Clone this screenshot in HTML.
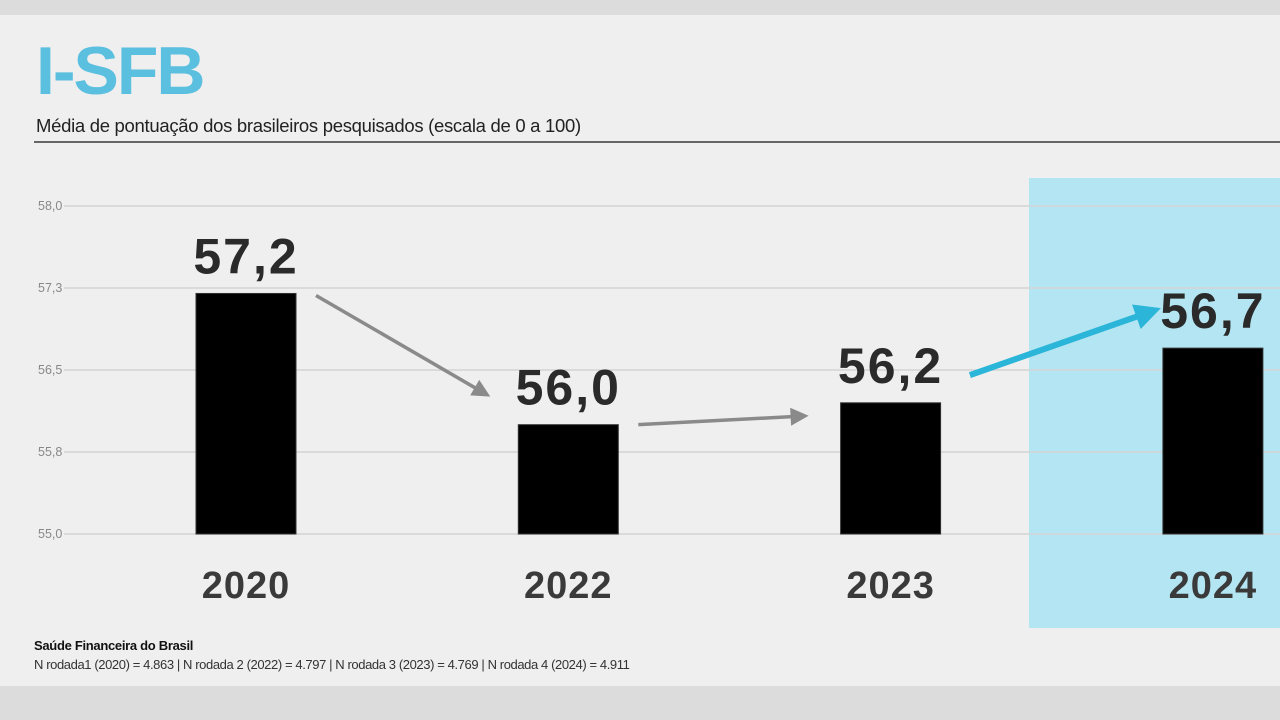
<!DOCTYPE html>
<html><head><meta charset="utf-8"><style>
html,body{margin:0;padding:0;width:1280px;height:720px;background:#dcdcdc;overflow:hidden;font-family:"Liberation Sans",sans-serif}
#panel{position:absolute;left:0;top:15px;width:1280px;height:671px;background:#efefef}
</style></head><body>
<div id="panel"></div>
<svg width="1280" height="720" style="position:absolute;left:0;top:0">
<rect x="1029" y="178" width="251" height="450" fill="#b3e5f2"/>
<text x="36" y="94" font-size="68" font-weight="bold" fill="#5bbfdf" letter-spacing="-2">I-SFB</text>
<text x="36" y="132" font-size="18.5" fill="#222" letter-spacing="-0.3">Média de pontuação dos brasileiros pesquisados (escala de 0 a 100)</text>
<rect x="34" y="141" width="1246" height="2" fill="#666"/>
<g id="grid"></g><g id="bars"></g><g id="arrows"></g>
<text x="34" y="650" font-size="13" font-weight="bold" fill="#111" letter-spacing="-0.3">Saúde Financeira do Brasil</text>
<text x="34" y="669" font-size="13" fill="#333" letter-spacing="-0.4">N rodada1 (2020) = 4.863 | N rodada 2 (2022) = 4.797 | N rodada 3 (2023) = 4.769 | N rodada 4 (2024) = 4.911</text>
</svg>
<script>
const categories=["2020","2022","2023","2024"];
const values=[57.2,56.0,56.2,56.7];
const valueLabels=["57,2","56,0","56,2","56,7"];
const tickValues=[58.0,57.25,56.5,55.75,55.0];
const tickLabels=["58,0","57,3","56,5","55,8","55,0"];
const NS="http://www.w3.org/2000/svg";
const y=v=>534-(v-55)*(328/3);
const x=i=>246+i*322.3;
function mk(t,a,p){const e=document.createElementNS(NS,t);for(const k in a)e.setAttribute(k,a[k]);p.appendChild(e);return e;}
const grid=document.getElementById('grid');
tickValues.forEach((v,i)=>{
 const l=mk('line',{x1:64,x2:1280,y1:y(v),y2:y(v),stroke:'#d4d4d4','stroke-width':1.5},grid);
 
 
 const t=mk('text',{x:38,y:y(v)+4,'font-size':12.5,fill:'#888'},grid);t.textContent=tickLabels[i];
 
 
});
const bars=document.getElementById('bars');
values.forEach((v,i)=>{
 const r=mk('rect',{x:x(i)-50,y:y(v),width:100,height:y(55)-y(v),fill:'#000',stroke:'#333','stroke-width':1},bars);
 
 
 const t=mk('text',{x:x(i),y:y(v)-20,'font-size':50,'font-weight':'bold',fill:'#2a2a2a','text-anchor':'middle','letter-spacing':2},bars);t.textContent=valueLabels[i];
 
 
 const c=mk('text',{x:x(i),y:598,'font-size':38,'font-weight':'bold',fill:'#3a3a3a','text-anchor':'middle','letter-spacing':1},bars);c.textContent=categories[i];
 
 
});
const arrows=document.getElementById('arrows');
function arrow(x1,y1,x2,y2,col,w,h){
 const g=mk('g',{},arrows);
 
 
 const a=Math.atan2(y2-y1,x2-x1),ux=Math.cos(a),uy=Math.sin(a);
 mk('line',{x1:x1,y1:y1,x2:x2-ux*h*0.8,y2:y2-uy*h*0.8,stroke:col,'stroke-width':w},g);
 const bx=x2-ux*h,by=y2-uy*h,px=-uy*h*0.5,py=ux*h*0.5;
 mk('polygon',{points:`${x2},${y2} ${bx+px},${by+py} ${bx-px},${by-py}`,fill:col},g);
}
arrow(x(0)+70,y(values[0])+2,x(1)-78,y(values[1])-28,'#8a8a8a',3.5,18);
arrow(x(1)+70,y(values[1]),x(2)-82,y(values[2])+13,'#8a8a8a',3.5,18);
arrow(x(3)-243,y(values[3])+27,x(3)-52,y(values[3])-40,'#2bb5d8',6,26);
</script>
</body></html>
